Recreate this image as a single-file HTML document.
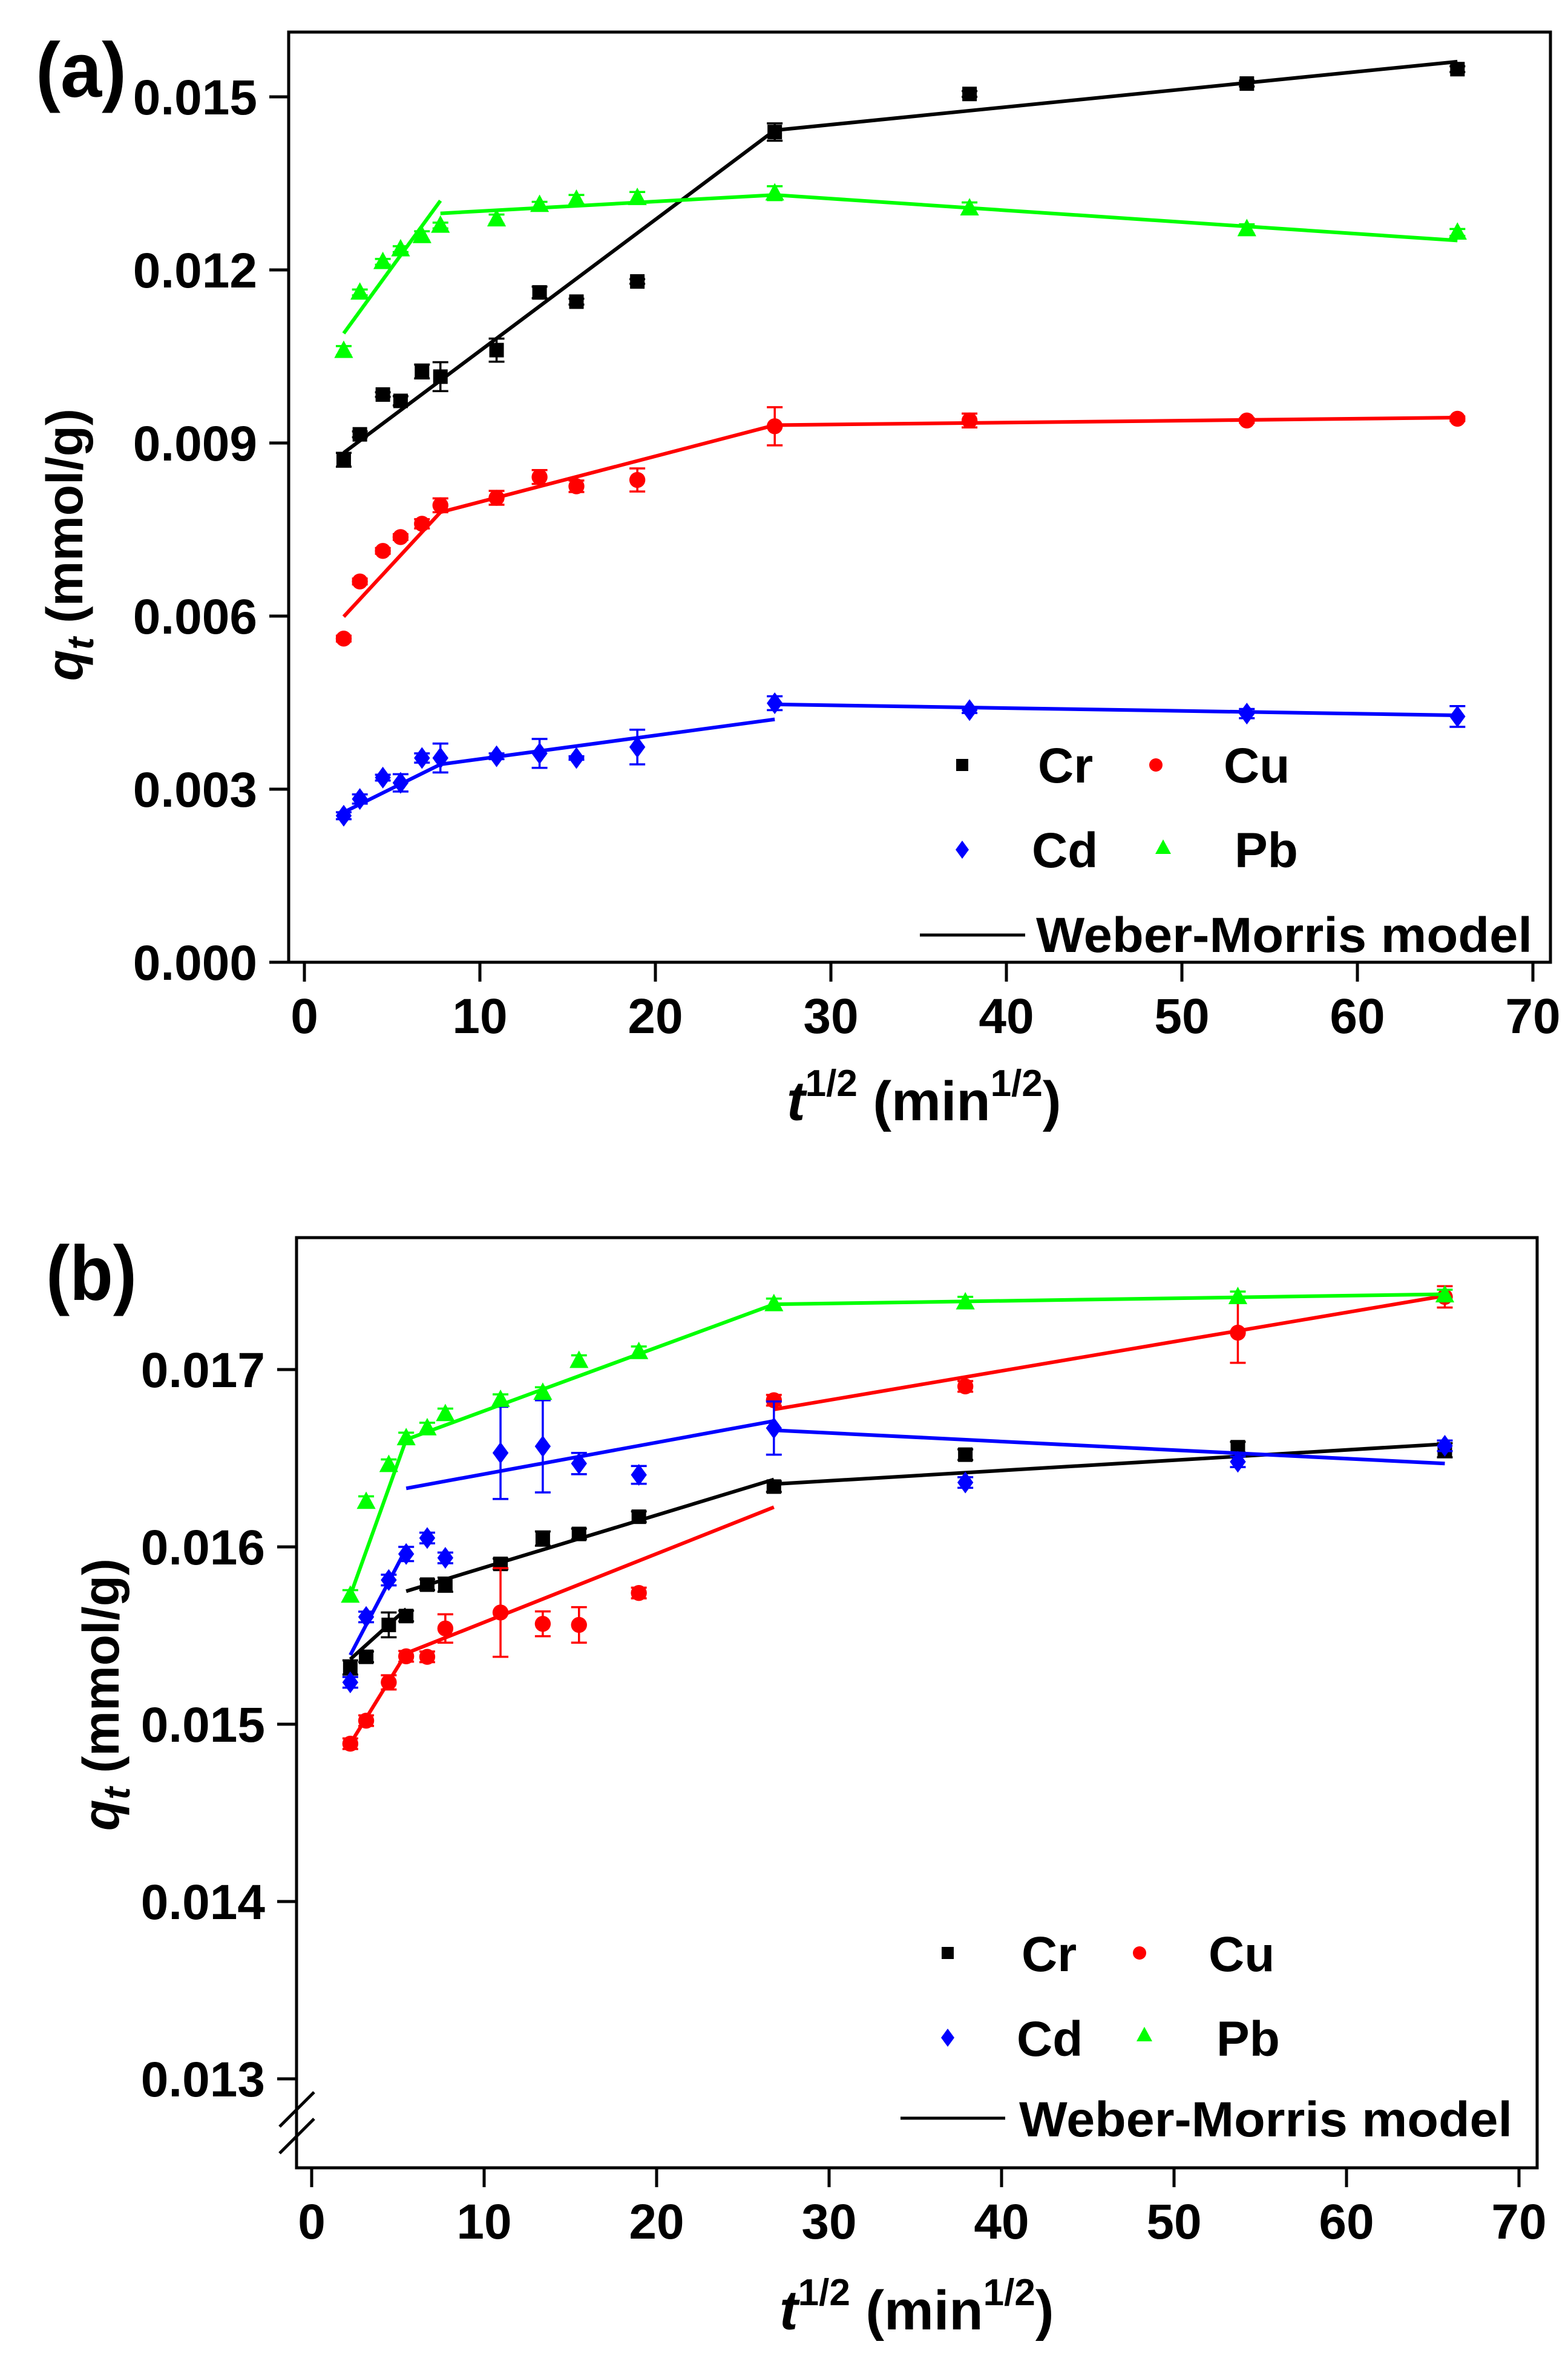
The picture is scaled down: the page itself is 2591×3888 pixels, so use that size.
<!DOCTYPE html>
<html><head><meta charset="utf-8"><style>
html,body{margin:0;padding:0;background:#fff;}
svg{display:block;font-family:"Liberation Sans",Arial,sans-serif;font-weight:bold;}
</style></head><body>
<svg id="fig" width="2591" height="3888" viewBox="0 0 2591 3888" xmlns="http://www.w3.org/2000/svg">
<rect width="2591" height="3888" fill="#fff"/>
</svg>
<script>
// ---- shared data ----
const tVals = [2.24, 3.16, 4.47, 5.48, 6.7, 7.75, 10.95, 13.4, 15.5, 18.97, 26.8, 37.9, 53.7, 65.7];
const xTicks = [0, 10, 20, 30, 40, 50, 60, 70];

// ---- panel (a) ----
const aYTicks = [0.000, 0.003, 0.006, 0.009, 0.012, 0.015];
const aCr = [0.00871,0.00915,0.00984,0.00973,0.01024,0.01015,0.01061,0.01161,0.01145,0.0118,0.01439,0.01505,0.01523,0.01548];
const aCu = [0.00561,0.0066,0.00713,0.00737,0.0076,0.00792,0.00805,0.00841,0.00825,0.00836,0.00929,0.00939,0.00939,0.00942];
const aCd = [0.00254,0.00283,0.0032,0.00311,0.00354,0.00354,0.00357,0.00362,0.00354,0.00373,0.00449,0.00437,0.00431,0.00426];
const aPb = [0.0106,0.01161,0.01214,0.01236,0.01259,0.01277,0.01288,0.01313,0.01322,0.01325,0.01333,0.01307,0.01271,0.01265];
const aCrErr = [0.00012,0.00005,0.00004,0.00008,0.00012,0.00025,0.0002,0.0001,0.00005,0.00004,0.00015,0.00005,0.00005,0.00005];
const aCuErr = [0.00005,0.00005,0.00005,0.00005,0.00008,0.00012,0.00012,0.00012,0.0001,0.0002,0.00033,0.00012,0.00004,0.00004];
const aCdErr = [0.00006,0.00008,0.00005,0.00015,0.00008,0.00025,0.00005,0.00025,0.00003,0.0003,0.00012,0.00005,0.00008,0.00018];
const aPbErr = [0.00008,0.00005,0.00005,0.00005,0.00008,0.00005,0.00008,0.00005,0.00008,0.0001,0.00012,0.0001,0.00008,0.00006];
const aCrFit = [[2.24,0.00883,26.8,0.01442],[26.8,0.01442,65.7,0.01561]];
const aCuFit = [[2.24,0.00599,7.75,0.0078],[7.75,0.0078,26.8,0.00931],[26.8,0.00931,65.7,0.00944]];
const aCdFit = [[2.24,0.0026,7.75,0.00343],[7.75,0.00343,26.8,0.00421],[26.8,0.00447,65.7,0.00428]];
const aPbFit = [[2.24,0.0109,7.75,0.0132],[7.75,0.01298,26.8,0.0133],[26.8,0.0133,65.7,0.01251]];

// ---- panel (b) ----
const bYTicks = [0.013, 0.014, 0.015, 0.016, 0.017];
const bCr = [0.01532,0.01538,0.01556,0.01561,0.015787,0.015787,0.015904,0.016047,0.016073,0.01617,0.01634,0.01652,0.016562,0.016545];
const bCu = [0.01489,0.01502,0.015236,0.015383,0.01538,0.01554,0.01563,0.015566,0.01556,0.01574,0.016827,0.016905,0.017208,0.01741];
const bCd = [0.015236,0.015605,0.015813,0.01596,0.01605,0.015938,0.01653,0.016567,0.01647,0.016406,0.01667,0.016363,0.01648,0.01657];
const bPb = [0.015726,0.016255,0.016463,0.016614,0.01667,0.01675,0.01683,0.01687,0.01705,0.0171,0.01737,0.01738,0.01741,0.01742];
const bCrErr = [0.00004,0.00003,0.00007,0.00003,0.00003,0.00004,0.00003,0.00004,0.00003,0.00003,0.00003,0.00003,0.00003,0.00004];
const bCuErr = [0.00003,0.00003,0.00004,0.00003,0.00003,0.00008,0.00025,0.00007,0.0001,0.00003,0.00003,0.00003,0.00017,0.00006];
const bCdErr = [0.00003,0.00003,0.00003,0.00004,0.00003,0.00003,0.00026,0.00026,0.00006,0.00005,0.00015,0.00003,0.00003,0.00003];
const bPbErr = [0.00003,0.00003,0.00003,0.00003,0.00003,0.00003,0.00003,0.00003,0.00003,0.00003,0.00003,0.00003,0.00003,0.00003];
const bCrFit = [[2.24,0.015366,5.48,0.01565],[5.48,0.01575,26.8,0.01638],[26.8,0.016354,65.7,0.01658]];
const bCuFit = [[2.24,0.01489,5.48,0.0154],[5.48,0.0154,26.8,0.016224],[26.8,0.016775,65.7,0.017416]];
const bCdFit = [[2.24,0.01539,5.48,0.01599],[5.48,0.01633,26.8,0.01671],[26.8,0.016658,65.7,0.01647]];
const bPbFit = [[2.24,0.015726,5.48,0.016605],[5.48,0.016605,26.8,0.017368],[26.8,0.017368,65.7,0.017425]];

const NS = "http://www.w3.org/2000/svg";
const svg = document.getElementById('fig');
const COL = {Cr:'#000000', Cu:'#ff0000', Cd:'#0000ff', Pb:'#00ff00'};

function mk(tag, attrs, parent){
  const e = document.createElementNS(NS, tag);
  for (const k in attrs) e.setAttribute(k, attrs[k]);
  (parent||svg).appendChild(e);
  return e;
}
function marker(kind, cx, cy, g, s){
  let e;
  if (kind==='Cr') e = mk('rect',{x:cx-s*0.5,y:cy-s*0.5,width:s,height:s,fill:COL.Cr},g);
  else if (kind==='Cu') e = mk('circle',{cx:cx,cy:cy,r:s*0.55,fill:COL.Cu},g);
  else if (kind==='Cd') e = mk('polygon',{points:`${cx},${cy-s*0.75} ${cx+s*0.55},${cy} ${cx},${cy+s*0.75} ${cx-s*0.55},${cy}`,fill:COL.Cd},g);
  else e = mk('polygon',{points:`${cx},${cy-s*0.7} ${cx+s*0.65},${cy+s*0.5} ${cx-s*0.65},${cy+s*0.5}`,fill:COL.Pb},g);
  return e;
}

function panel(cfg){
  const X = t => cfg.x0 + t*cfg.xs;
  const Y = v => cfg.yRef - (v - cfg.vRef)*cfg.ys;
  const g = mk('g',{});
  
  

  const lab = mk('text',{x:cfg.labX,y:cfg.labY,'font-size':128,textLength:150,lengthAdjust:'spacingAndGlyphs'},g);
  lab.textContent = cfg.letter;
  
  

  const series = [['Cr',cfg.Cr,cfg.CrErr,cfg.CrFit],['Cu',cfg.Cu,cfg.CuErr,cfg.CuFit],['Cd',cfg.Cd,cfg.CdErr,cfg.CdFit],['Pb',cfg.Pb,cfg.PbErr,cfg.PbFit]];
  series.forEach(([k,vals,errs,fits])=>{
    const sg = mk('g',{},g);
    
    
    fits.forEach(f=>{
      const l = mk('line',{x1:X(f[0]),y1:Y(f[1]),x2:X(f[2]),y2:Y(f[3]),stroke:COL[k],'stroke-width':6},sg);
      
      
    });
    vals.forEach((v,i)=>{
      const cx = X(tVals[i]), cy = Y(v);
      const e = errs[i];
      const eb = mk('path',{d:`M${cx},${Y(v+e)}V${Y(v-e)}M${cx-13},${Y(v+e)}H${cx+13}M${cx-13},${Y(v-e)}H${cx+13}`,stroke:COL[k],'stroke-width':3.5,fill:'none'},sg);
      
      
      const m = marker(k,cx,cy,sg,24);
      
      
    });
  });

  const fr = mk('rect',{x:cfg.L,y:cfg.T,width:cfg.R-cfg.L,height:cfg.B-cfg.T,fill:'none',stroke:'#000','stroke-width':5},g);
  
  

  cfg.yTicks.forEach(v=>{
    const y = Y(v);
    const t = mk('line',{x1:cfg.L-32,y1:y,x2:cfg.L,y2:y,stroke:'#000','stroke-width':5},g);
    
    
    const tx = mk('text',{x:cfg.L-52,y:y+29,'font-size':82,'text-anchor':'end'},g);
    tx.textContent = v.toFixed(3);
    
    
  });
  xTicks.forEach(v=>{
    const x = X(v);
    const t = mk('line',{x1:x,y1:cfg.B,x2:x,y2:cfg.B+32,stroke:'#000','stroke-width':5},g);
    
    
    const tx = mk('text',{x:x,y:cfg.B+117,'font-size':82,'text-anchor':'middle'},g);
    tx.textContent = String(v);
    
    
  });

  const xt = mk('text',{x:cfg.xtX,y:cfg.xtY,'font-size':92},g);
  xt.innerHTML = '<tspan font-style="italic">t</tspan><tspan font-size="62" dy="-40">1/2</tspan><tspan dy="40"> (min</tspan><tspan font-size="62" dy="-40">1/2</tspan><tspan dy="40">)</tspan>';
  
  
  const yt = mk('text',{x:0,y:0,'font-size':84,'text-anchor':'middle',transform:`translate(${cfg.ytX},${cfg.ytY}) rotate(-90)`},g);
  yt.innerHTML = '<tspan font-style="italic">q</tspan><tspan font-style="italic" font-size="62" dy="18">t</tspan><tspan dy="-18"> (mmol/g)</tspan>';
  
  

  const lg = mk('g',{},g);
  
  
  cfg.legend.forEach(([k,mx,my,tx,ty])=>{
    const m = marker(k,mx,my,lg,20);
    
    
    const t = mk('text',{x:tx,y:ty,'font-size':82},lg);
    t.textContent = k;
    
    
  });
  const ll = mk('line',{x1:cfg.wmL1,y1:cfg.wmY,x2:cfg.wmL2,y2:cfg.wmY,stroke:'#000','stroke-width':5},lg);
  
  
  const wt = mk('text',{x:cfg.wmTX,y:cfg.wmTY,'font-size':82,textLength:cfg.wmTW,lengthAdjust:'spacingAndGlyphs'},lg);
  wt.textContent = 'Weber-Morris model';
  
  

  if (cfg.brk){
    const b = mk('path',{d:'M462,3514L519,3457M462,3558L519,3501',stroke:'#000','stroke-width':5,fill:'none'},g);
    
    
  }
}

panel({name:'panel-a', letter:'(a)', labX:59, labY:160,
  L:477, R:2562, T:53, B:1590, x0:503, xs:29, yRef:1590, vRef:0, ys:286/0.003,
  yTicks:aYTicks, Cr:aCr, Cu:aCu, Cd:aCd, Pb:aPb, CrErr:aCrErr, CuErr:aCuErr, CdErr:aCdErr, PbErr:aPbErr,
  CrFit:aCrFit, CuFit:aCuFit, CdFit:aCdFit, PbFit:aPbFit,
  xtX:1300, xtY:1851, ytX:136, ytY:900,
  legend:[['Cr',1590,1264,1715,1293],['Cu',1910,1264,2022,1293],['Cd',1590,1404,1705,1433],['Pb',1922,1401,2040,1433]],
  wmL1:1520, wmL2:1694, wmY:1545, wmTX:1712, wmTY:1573, wmTW:820});

panel({name:'panel-b', letter:'(b)', labX:76, labY:2148,
  L:490, R:2540, T:2045, B:3582, x0:515, xs:28.5, yRef:2263, vRef:0.017, ys:293000,
  yTicks:bYTicks, Cr:bCr, Cu:bCu, Cd:bCd, Pb:bPb, CrErr:bCrErr, CuErr:bCuErr, CdErr:bCdErr, PbErr:bPbErr,
  CrFit:bCrFit, CuFit:bCuFit, CdFit:bCdFit, PbFit:bPbFit,
  xtX:1288, xtY:3849, ytX:196, ytY:2800,
  legend:[['Cr',1566,3227,1688,3257],['Cu',1883,3227,1997,3257],['Cd',1566,3367,1680,3397],['Pb',1891,3363,2010,3397]],
  wmL1:1488, wmL2:1661, wmY:3500, wmTX:1684, wmTY:3530, wmTW:815, brk:true});
</script>
</body></html>
